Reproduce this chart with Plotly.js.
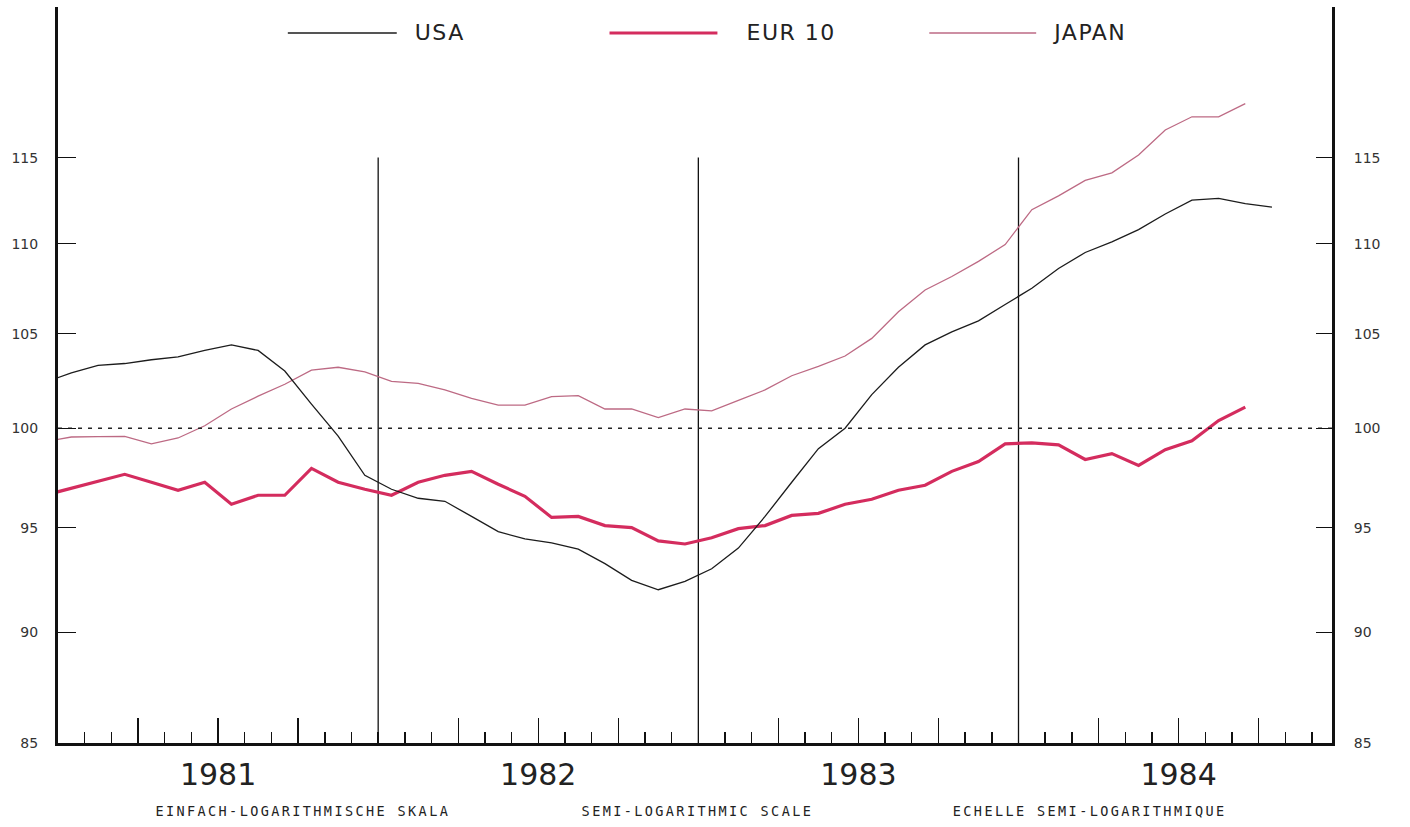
<!DOCTYPE html>
<html>
<head>
<meta charset="utf-8">
<script src="https://cdn.plot.ly/plotly-3.0.1.min.js"></script>
<style>
html, body { margin: 0; padding: 0; background: #ffffff; }
#chart { width: 1410px; height: 827px; }
</style>
</head>
<body>
<div id="chart"></div>
<script>
// ---- data (monthly values, plotted mid-month) ----
const months = [
  '1980-12',
  '1981-01','1981-02','1981-03','1981-04','1981-05','1981-06','1981-07','1981-08','1981-09','1981-10','1981-11','1981-12',
  '1982-01','1982-02','1982-03','1982-04','1982-05','1982-06','1982-07','1982-08','1982-09','1982-10','1982-11','1982-12',
  '1983-01','1983-02','1983-03','1983-04','1983-05','1983-06','1983-07','1983-08','1983-09','1983-10','1983-11','1983-12',
  '1984-01','1984-02','1984-03','1984-04','1984-05','1984-06','1984-07','1984-08','1984-09','1984-10'
];
const usa = [
  102.4,
  102.9,103.3,103.4,103.6,103.75,104.1,104.4,104.1,103.0,101.25,99.6,97.6,
  96.9,96.45,96.3,95.55,94.8,94.45,94.25,93.95,93.25,92.45,92.0,92.4,
  93.0,94.0,95.55,97.25,98.95,100.0,101.75,103.2,104.4,105.1,105.7,106.6,
  107.5,108.6,109.5,110.1,110.8,111.7,112.5,112.6,112.3,112.1
];
const eur10 = [
  96.6,
  96.95,97.3,97.65,97.25,96.85,97.25,96.15,96.6,96.6,97.95,97.25,96.9,
  96.6,97.25,97.6,97.8,97.15,96.55,95.5,95.55,95.1,95.0,94.35,94.2,
  94.5,94.95,95.1,95.6,95.7,96.15,96.4,96.85,97.1,97.8,98.3,99.2,
  99.25,99.15,98.4,98.7,98.1,98.9,99.35,100.4,101.1
];
const japan = [
  99.3,
  99.55,99.57,99.58,99.2,99.5,100.13,101.0,101.67,102.3,103.05,103.2,102.95,
  102.45,102.35,102.0,101.55,101.2,101.2,101.65,101.7,101.0,101.0,100.55,101.0,
  100.9,101.45,102.0,102.75,103.25,103.8,104.75,106.2,107.4,108.15,109.0,109.95,
  111.95,112.75,113.65,114.1,115.15,116.65,117.45,117.45,118.25
];
const seriesNames = ['USA', 'EUR 10', 'JAPAN'];
const years = ['1981', '1982', '1983', '1984'];
const yTicks = [85, 90, 95, 100, 105, 110, 115];
const baseLevel = 100;
const scaleNotes = ['EINFACH-LOGARITHMISCHE SKALA', 'SEMI-LOGARITHMIC SCALE', 'ECHELLE SEMI-LOGARITHMIQUE'];

// ---- styles ----
const colUSA = '#1c1c1c';
const colEUR = '#d42c5e';
const colJPN = '#bd6a84';

// month label -> position on a month axis (0 = start of Jan 1981), mid-month
function monthPos(label) {
  const p = label.split('-').map(Number);
  return (p[0] - 1981) * 12 + (p[1] - 1) + 0.5;
}
const xAll = months.map(monthPos);
const xMax = 47.75;
const yLow = yTicks[0], yHigh = yTicks[yTicks.length - 1];

// year separators (from the bottom up to the top tick level)
const sepX = [], sepY = [];
for (let k = 1; k < years.length; k++) {
  sepX.push(12 * k, 12 * k, null);
  sepY.push(yLow, yHigh, null);
}

const traces = [
  { name: 'base', x: [0, xMax], y: [baseLevel, baseLevel], yaxis: 'y2', mode: 'lines',
    line: { color: '#222', width: 1.3, dash: '4px,6px' }, hoverinfo: 'skip' },
  { name: 'years', x: sepX, y: sepY, mode: 'lines', connectgaps: false,
    line: { color: '#111', width: 1.3 }, hoverinfo: 'skip' },
  { name: seriesNames[2], x: xAll.slice(0, japan.length), y: japan, mode: 'lines',
    line: { color: colJPN, width: 1.3 }, hoverinfo: 'skip' },
  { name: seriesNames[1], x: xAll.slice(0, eur10.length), y: eur10, mode: 'lines',
    line: { color: colEUR, width: 3.2 }, hoverinfo: 'skip' },
  { name: seriesNames[0], x: xAll.slice(0, usa.length), y: usa, mode: 'lines',
    line: { color: colUSA, width: 1.3 }, hoverinfo: 'skip' }
];

// quarter ticks; year label sits on the mid-year tick
const qVals = [], qText = [];
years.forEach((yr, k) => {
  [3, 6, 9].forEach(m => { qVals.push(12 * k + m); qText.push(m === 6 ? yr : ''); });
});

const yRange = [Math.log10(85), Math.log10(124.3)];
const yAxisCommon = {
  type: 'log', range: yRange, autorange: false, tickvals: yTicks, ticktext: yTicks.map(String),
  ticks: 'inside', tickwidth: 1.4, tickcolor: '#111',
  showline: true, linewidth: 3, linecolor: '#111',
  showgrid: false, zeroline: false, fixedrange: true,
  tickfont: { family: 'DejaVu Sans', size: 14, color: '#333' }
};

const shapes = [];
const legendKeys = [
  { x0: 0.1804, x1: 0.2659, tx: 0.2800, color: colUSA, width: 1.3 },
  { x0: 0.4329, x1: 0.5176, tx: 0.5427, color: colEUR, width: 3.2 },
  { x0: 0.6839, x1: 0.7678, tx: 0.7820, color: colJPN, width: 1.3 }
];
const legendY = 0.9647;
const annotations = [];
legendKeys.forEach((k, i) => {
  shapes.push({ type: 'line', xref: 'paper', yref: 'paper', x0: k.x0, x1: k.x1, y0: legendY, y1: legendY,
    line: { color: k.color, width: k.width } });
  annotations.push({ xref: 'paper', yref: 'paper', x: k.tx, y: legendY, xanchor: 'left', yanchor: 'middle',
    text: seriesNames[i], showarrow: false, font: { family: 'DejaVu Sans', size: 22, color: '#222' } });
});
const noteX = [0.192, 0.502, 0.810];
scaleNotes.forEach((t, i) => {
  annotations.push({ xref: 'paper', yref: 'paper', x: noteX[i], y: 0, xanchor: 'center', yanchor: 'middle',
    yshift: -68, text: t, showarrow: false,
    font: { family: 'DejaVu Sans Mono', size: 13.5, color: '#222' } });
});

const layout = {
  width: 1410, height: 827,
  margin: { l: 58, r: 78, t: 7, b: 84, pad: 0 },
  paper_bgcolor: '#ffffff', plot_bgcolor: '#ffffff',
  showlegend: false,
  xaxis: {
    range: [0, xMax], autorange: false, showline: true, linewidth: 3, linecolor: '#111',
    ticks: 'inside', ticklen: 25, tickwidth: 1.4, tickcolor: '#111',
    tickvals: qVals, ticktext: qText, ticklabelstandoff: 3,
    tickfont: { family: 'DejaVu Sans', size: 30, color: '#222' },
    showgrid: false, zeroline: false, fixedrange: true,
    minor: { dtick: 1, tick0: 0, ticks: 'inside', ticklen: 11, tickwidth: 1.4, tickcolor: '#111', showgrid: false }
  },
  yaxis: Object.assign({}, yAxisCommon, { side: 'left', ticklen: 18, ticklabelstandoff: 14 }),
  yaxis2: Object.assign({}, yAxisCommon, { side: 'right', overlaying: 'y', anchor: 'x', ticklen: 16, ticklabelstandoff: 16 }),
  shapes: shapes,
  annotations: annotations
};

Plotly.newPlot('chart', traces, layout, { staticPlot: true, displayModeBar: false }).then(() => {
  document.querySelectorAll('.annotation-text').forEach(el => {
    const t = el.textContent;
    if (scaleNotes.indexOf(t) >= 0) el.style.letterSpacing = '2.4px';
    else if (seriesNames.indexOf(t) >= 0) el.style.letterSpacing = '1.5px';
  });
});
</script>
</body>
</html>
